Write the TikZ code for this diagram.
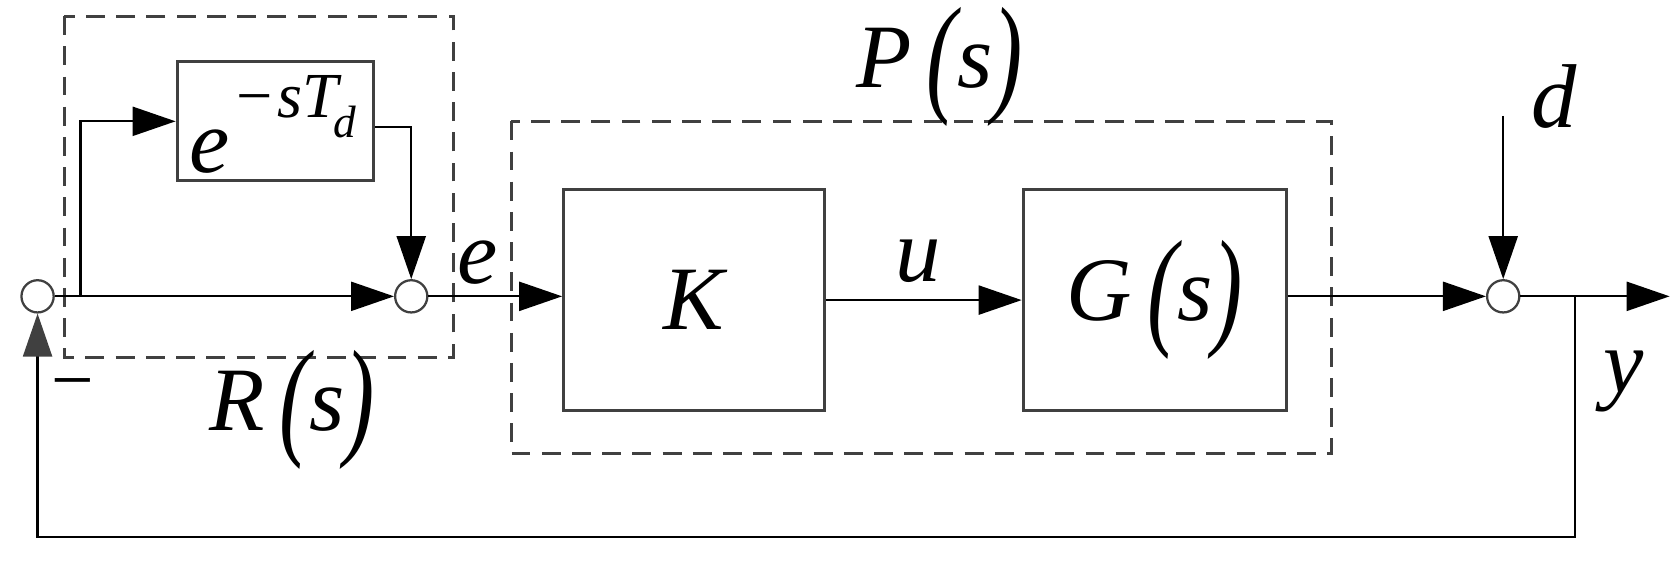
\documentclass[tikz,border=0pt]{standalone}
\usepackage{fontspec}
\setmainfont{Liberation Serif}
\usetikzlibrary{arrows.meta}
\newcommand{\bp}[1]{\raisebox{-0.12em}{\scalebox{1}[1.45]{#1}}}
\begin{document}
\begin{tikzpicture}[x=0.01cm,y=-0.01cm,line width=0.6pt,
  arr/.style={-{Triangle[length=0.4cm,width=0.27cm]}},
  blk/.style={draw=black!75,line width=0.8pt,inner sep=0},
  dbox/.style={draw=black!75,dashed,line width=0.8pt,dash pattern=on 5pt off 3pt},
  sum/.style={circle,draw=black!75,line width=0.6pt,minimum size=0.3cm,inner sep=0},
  lbl/.style={font=\fontsize{24}{28}\selectfont\itshape,inner sep=0}]
\useasboundingbox (0,0) rectangle (1560,522);
\draw[dbox] (60,15) rectangle (422,333);
\draw[dbox] (476,113) rectangle (1240,422);
\node[blk,minimum width=1.83cm,minimum height=1.11cm] (D) at (256.5,112.5) {};
\node[lbl] at (254,116) {e\kern0.03em\raisebox{0.6em}{\fontsize{17}{20}\selectfont −\kern0.03em sT\kern-0.08em\raisebox{-0.3em}{\fontsize{12}{14}\selectfont d}}};
\node[blk,minimum width=2.43cm,minimum height=2.05cm] (K) at (646.5,279.5) {};
\node[lbl] at (646.5,279.5) {K};
\node[blk,minimum width=2.45cm,minimum height=2.05cm] (G) at (1075.5,279.5) {};
\node[lbl] at (1075.5,279.5) {G\,\bp{(}s\bp{)}};
\node[sum] (S1) at (35,276) {};
\node[sum] (S2) at (383,276) {};
\node[sum] (S3) at (1400,276) {};
\coordinate (a) at (75,276);
\coordinate (b) at (75,113);
\coordinate (c) at (383,118);
\coordinate (dtop) at (1400,108);
\coordinate (out) at (1555,276);
\coordinate (f) at (1467,276);
\coordinate (f1) at (1467,500);
\coordinate (f2) at (35,500);
\draw[arr] (S1) -- (S2);
\draw[arr] (a) -- (b) -- (D.west |- b);
\draw[arr] (D.east |- c) -- (c) -- (S2);
\draw[arr] (S2) -- (K.west |- S2);
\draw[arr] (K) -- (G);
\draw[arr] (G.east |- S3) -- (S3);
\draw[arr] (dtop) -- (S3);
\draw[arr] (S3) -- (out);
\draw[-{Triangle[length=0.4cm,width=0.27cm,fill=black!75,color=black!75]}] (f) -- (f1) -- (f2) -- (S1);
\node[lbl] at (445,245) {e};
\node[lbl] at (855,243) {u};
\node[lbl] at (1447,90) {d};
\node[lbl] at (1512,355) {y};
\node[font=\fontsize{20}{22}\selectfont] at (68,365) {−};
\node[lbl] at (272,382) {R\,\bp{(}s\bp{)}};
\node[lbl] at (875,62) {P\,\bp{(}s\bp{)}};
\end{tikzpicture}
\end{document}
